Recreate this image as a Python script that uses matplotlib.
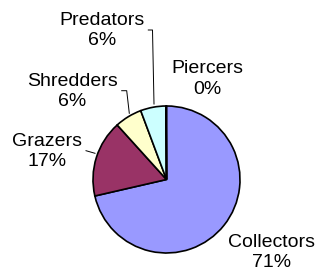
import matplotlib
matplotlib.use("Agg")
import matplotlib.pyplot as plt

plt.rcParams['font.family'] = ['Liberation Sans', 'DejaVu Sans']

# 数据
groups = ["Collectors", "Grazers", "Shredders", "Predators", "Piercers"]
shares = [71.4, 16.9, 6.0, 5.6, 0.1]
colors = ["#9999FF", "#993366", "#FFFFCC", "#CCFFFF", "#660066"]

W, H = 321, 280
fig = plt.figure(figsize=(W / 100, H / 100), dpi=100)
ax = fig.add_axes([0, 0, 1, 1])

# 像素坐标系 (y 向上)
cx, cy, r = 166.5, H - 179.5, 73.5
ax.pie(shares, colors=colors, startangle=90, counterclock=False,
       center=(cx, cy), radius=r,
       wedgeprops=dict(edgecolor="black", linewidth=1.2))

# 标签位置 (像素, 自上而下)
label_pos = {
    "Collectors": (271.7, 252.5),
    "Grazers": (47, 151.5),
    "Shredders": (72.2, 91.5),
    "Predators": (101.7, 30.5),
    "Piercers": (207, 79),
}
for g, v in zip(groups, shares):
    x, y = label_pos[g]
    ax.text(x, H - y, "{}\n{}%".format(g, int(round(v))), ha="center", va="center",
            fontsize=14, linespacing=1.28)

# 引线
leaders = [
    [(148.3, 30), (152.5, 30), (154, 104)],
    [(121.7, 90.7), (126.7, 90.7), (129.3, 113.3)],
    [(86, 150.7), (95, 153.3)],
]
for pts in leaders:
    xs = [p[0] for p in pts]
    ys = [H - p[1] for p in pts]
    ax.plot(xs, ys, color="black", lw=0.7)

ax.set_xlim(0, W)
ax.set_ylim(0, H)
ax.set_aspect("equal")
ax.axis("off")
fig.savefig("out.png", dpi=100)
